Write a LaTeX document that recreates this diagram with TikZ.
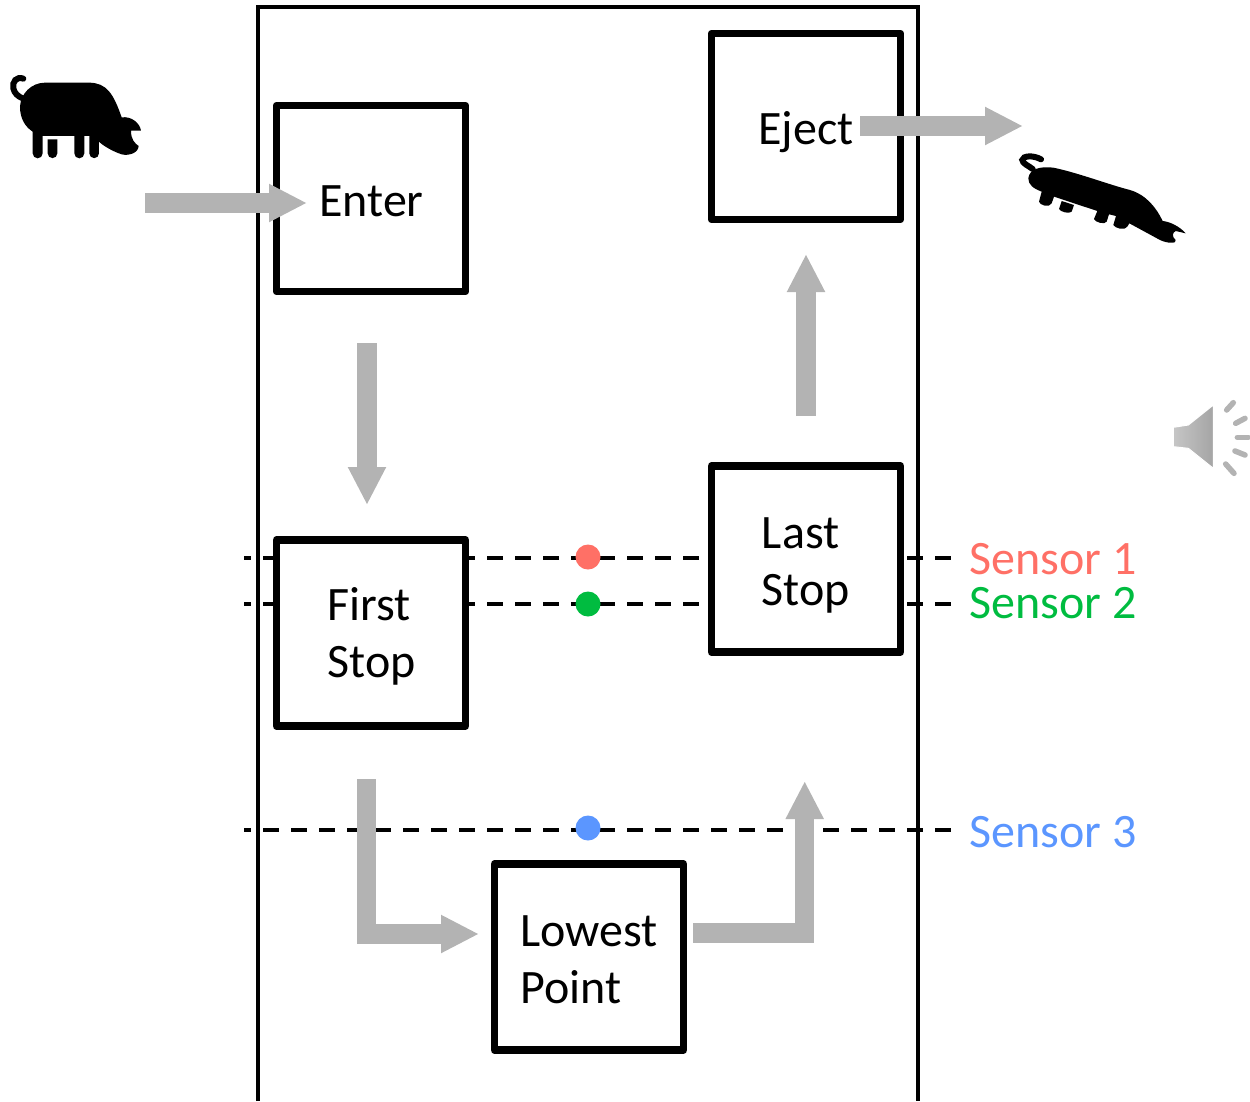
\documentclass[tikz,border=0pt]{standalone}
\usepackage{fontspec}
\setmainfont{Carlito}
\usetikzlibrary{arrows.meta}
\definecolor{arrowgray}{HTML}{B3B3B3}
\definecolor{sone}{HTML}{FF7066}
\definecolor{stwo}{HTML}{00BC40}
\definecolor{sthree}{HTML}{5B96FF}
\tikzset{
  stagebox/.style={draw=black,fill=white,line width=7.5pt,line join=round,minimum width=189pt,minimum height=186pt,inner sep=0pt},
  stagetext/.style={align=left,inner sep=0pt,font=\fontsize{48}{57}\selectfont},
  flow/.style={draw=arrowgray,line width=19.3pt,-{Triangle[width=35.5pt,length=38pt]}},
  sensorline/.style={draw=black,line width=4.2pt,dash pattern=on 16.4pt off 11.6pt,dash phase=9pt},
  sensordot/.style={circle,inner sep=0pt,minimum size=25pt,draw=none},
  sensorlabel/.style={anchor=west,inner sep=0pt,font=\fontsize{48}{50}\selectfont},
  wall/.style={draw=black,line width=3.5pt},
  ray/.style={draw=arrowgray,line width=5.5pt,line cap=round}
}
\begin{document}
\begin{tikzpicture}[x=1pt,y=-1pt]
\useasboundingbox (0,0) rectangle (1250,1101);
% sensor anchors
\coordinate (a1) at (244,558); \coordinate (b1) at (952,558);
\coordinate (a2) at (244,604); \coordinate (b2) at (952,604);
\coordinate (a3) at (244,830); \coordinate (b3) at (952,830);
\draw[sensorline] (a1) -- (b1);
\draw[sensorline] (a2) -- (b2);
\draw[sensorline] (a3) -- (b3);
% frame
\draw[wall] (258,1101) -- (258,7) -- (918,7) -- (918,1101);
% boxes
\node[stagebox] (enter) at (371,198.5) {};
\node[stagebox] (eject) at (806,126.5) {};
\node[stagebox] (last) at (806,559) {};
\node[stagebox] (first) at (371,633) {};
\node[stagebox] (lowest) at (589,957) {};
\node[stagetext] (enterT) at (371.5,201) {Enter};
\node[stagetext] (ejectT) at (806,132) {Eject};
\node[stagetext] (lastT) at (806,565) {Last\\Stop};
\node[stagetext] (firstT) at (371.5,636.5) {First\\Stop};
\node[stagetext] (lowestT) at (589,960) {Lowest\\Point};
% arrows
\coordinate (e0) at (145,203); \coordinate (e1) at (307,203);
\coordinate (d0) at (367,343); \coordinate (d1) at (367,505);
\coordinate (u0) at (806,416); \coordinate (u1) at (806,254);
\coordinate (o0) at (860,126); \coordinate (o1) at (1023,126);
\coordinate (p0) at (366.7,779); \coordinate (p1) at (366.7,934); \coordinate (p2) at (479,934);
\coordinate (q0) at (693,933); \coordinate (q1) at (804.7,933); \coordinate (q2) at (804.7,781);
\draw[flow] (e0) -- (e1);
\draw[flow] (d0) -- (d1);
\draw[flow] (u0) -- (u1);
\draw[flow] (o0) -- (o1);
\draw[flow] (p0) -- (p1) -- (p2);
\draw[flow] (q0) -- (q1) -- (q2);
% dots
\node[sensordot,fill=sone] (dot1) at (588,557) {};
\node[sensordot,fill=stwo] (dot2) at (588,604) {};
\node[sensordot,fill=sthree] (dot3) at (588,828) {};
% labels
\node[sensorlabel,text=sone] (s1) at (969,559) {Sensor 1};
\node[sensorlabel,text=stwo] (s2) at (969,603) {Sensor 2};
\node[sensorlabel,text=sthree] (s3) at (969,832) {Sensor 3};
% pig 1
\begin{scope}[shift={(0,60)},x=0.3333pt,y=-0.3333pt]
\draw[line width=6pt,line cap=round] (70,56) .. controls (50,48) and (36,65) .. (40,85) .. controls (43,100) and (55,110) .. (68,115);
\fill (60,140) .. controls (62,100) and (95,68) .. (135,68) -- (270,68) .. controls (320,70) and (340,100) .. (365,172)
 .. controls (395,168) and (420,190) .. (423,212) -- (393,212) .. controls (393,240) and (405,250) .. (416,258)
 .. controls (415,280) and (385,288) .. (365,283) .. controls (340,275) and (310,258) .. (297,245)
 -- (297,280) arc[start angle=0,end angle=180,radius=14.5] -- (268,228) -- (253,228) -- (253,280) arc[start angle=0,end angle=180,radius=15] -- (223,228) -- (128,228) -- (128,280) arc[start angle=0,end angle=180,radius=15] -- (98,215) .. controls (75,200) and (60,175) .. (60,140) -- cycle;
\fill (143,238) -- (172,238) -- (172,280) arc[start angle=0,end angle=180,radius=14.5] -- cycle;
\end{scope}
% pig 2
\begin{scope}[shift={(1010,145)},x=0.3333pt,y=-0.3333pt]
\draw[line width=6pt,line cap=round] (93,43) .. controls (70,30) and (38,32) .. (37,45) .. controls (37,55) and (55,62) .. (68,72);
\fill (55,100) .. controls (58,72) and (90,63) .. (130,68) .. controls (200,82) and (300,120) .. (360,135)
 .. controls (410,150) and (440,190) .. (458,228) .. controls (480,230) and (510,245) .. (527,265) -- (497,258)
 .. controls (487,263) and (485,275) .. (497,285) .. controls (502,297) and (470,295) .. (450,285) -- (358,235)
 -- (352,245) .. controls (345,258) and (315,250) .. (310,240) -- (318,213) -- (297,208) -- (290,230) .. controls (285,240) and (255,232) .. (252,222) -- (262,198) -- (132,155) -- (125,175) .. controls (118,190) and (88,180) .. (87,170) -- (95,140) .. controls (70,130) and (55,120) .. (55,100) -- cycle;
\fill (155,168) -- (192,180) -- (185,200) .. controls (178,208) and (150,200) .. (147,192) -- cycle;
\end{scope}
% speaker
\begin{scope}[shift={(1160,390)},x=0.3333pt,y=-0.3333pt]
\shade[left color=arrowgray!75!white,right color=arrowgray!92!black,draw=white,line width=1pt] (40,112) -- (85,105) -- (160,45) -- (160,235) -- (85,175) -- (40,170) -- cycle;
\draw[ray] (200,60) -- (220,38);
\draw[ray] (227,100) -- (255,85);
\draw[ray] (232,142) -- (265,142);
\draw[ray] (225,183) -- (255,195);
\draw[ray] (197,222) -- (222,250);
\end{scope}
\end{tikzpicture}
\end{document}
